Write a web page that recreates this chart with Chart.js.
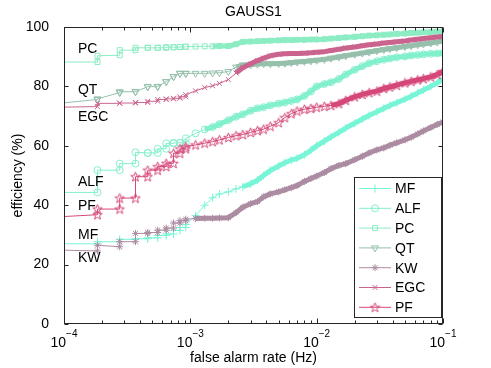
<!DOCTYPE html>
<html>
<head>
<meta charset="UTF-8">
<title>GAUSS1</title>
<style>
  body { margin: 0; background: #fff; }
</style>
<script src="https://cdn.jsdelivr.net/npm/chart.js@4.4.0/dist/chart.umd.min.js"></script>
</head>
<body>
<div style="width:491px;height:368px;"><canvas id="canvas" width="491" height="368"></canvas></div>
<script>
// false alarm rate (Hz), shared by all curves; repeated values are the vertical steps
var rate = [9.2e-5, 1.84e-4, 1.84e-4, 2.76e-4, 2.76e-4, 3.68e-4, 3.68e-4, 4.6e-4, 4.6e-4, 5.52e-4, 5.52e-4,
  6.44e-4, 6.44e-4, 7.36e-4, 7.36e-4, 8.28e-4, 8.28e-4, 9.2e-4, 9.2e-4,
  1.1e-3, 1.3e-3, 1.5e-3, 1.7e-3, 2e-3, 2.3e-3, 2.6e-3, 3e-3, 3.4e-3, 3.8e-3, 4.3e-3, 5e-3, 5.6e-3, 6.3e-3, 7e-3, 8e-3, 9e-3,
  1e-2, 1.15e-2, 1.3e-2, 1.5e-2, 1.7e-2, 2e-2, 2.3e-2, 2.6e-2, 3e-2, 3.4e-2, 3.8e-2, 4.3e-2, 5e-2, 5.6e-2, 6.3e-2, 7e-2, 8e-2, 9e-2, 1e-1];

// efficiency (%)
var MF = [27, 27, 27.7, 27.7, 28.5, 28.5, 28.7, 28.7, 29, 29, 29.8, 29.8, 30.3, 30.3, 31.5, 31.5, 32.5, 32.5, 33.5,
  36.5, 40, 42.5, 43.8, 44.5, 45.5, 46.2, 47.2, 48.4, 50, 51.7, 53.2, 54.3, 55.2, 55.8, 57, 58.5,
  60, 61.6, 63, 64.5, 66, 67.6, 69, 70.2, 71.5, 72.6, 73.6, 74.5, 75.7, 76.7, 77.8, 78.8, 80, 81.2, 82.5];
var ALF = [44.3, 44.3, 51.8, 51.8, 54, 54, 57.8, 57.6, 57.6, 57.6, 59, 59, 60.8, 60.8, 61, 61, 61, 61, 62.5,
  64.2, 65.5, 66.3, 67.3, 68.6, 69.8, 70.6, 71.8, 72.6, 73, 73.6, 74.2, 74.6, 75.1, 75.6, 76.8, 78.3,
  80, 80.8, 81.4, 82.5, 84, 85.6, 86.8, 87.8, 88.5, 89, 89.4, 89.8, 90.1, 90.4, 90.6, 90.8, 91, 91.1, 91.2];
var PC = [88.2, 88.2, 90.3, 90.5, 92.2, 92.2, 93, 93, 93, 93, 93, 93, 93.2, 93.2, 93.2, 93.2, 93.3, 93.3, 93.4,
  93.4, 93.5, 93.5, 93.6, 93.6, 94.2, 95, 95.1, 95.2, 95.3, 95.4, 95.5, 95.6, 95.6, 95.7, 95.7, 95.8,
  95.8, 95.9, 96.1, 96.3, 96.5, 96.7, 96.9, 97.1, 97.2, 97.4, 97.5, 97.7, 97.8, 98, 98.1, 98.2, 98.3, 98.4, 98.5];
var QT = [74.3, 75.6, 75.8, 77.9, 78.2, 78.2, 78.2, 79.9, 79.9, 79.9, 80, 81.6, 81.6, 83.3, 83.3, 84.4, 84.4, 84.4, 84.4,
  84.4, 84.4, 84.5, 84.6, 85, 86.5, 87.2, 87.3, 87.5, 87.6, 87.6, 87.7, 87.8, 88, 88.2, 88.4, 88.6,
  88.8, 89.1, 89.5, 89.9, 90.3, 90.8, 91.2, 91.6, 92, 92.4, 92.7, 93, 93.4, 93.7, 94, 94.3, 94.6, 94.9, 95.2];
var KW = [24.9, 24.6, 26.5, 26, 27.7, 27.7, 30.5, 30.5, 30.8, 30.8, 31.6, 31.6, 32.3, 32.3, 34, 34, 34.8, 34.8, 35.3,
  35.5, 35.6, 35.6, 35.7, 35.8, 37.5, 39.3, 40.5, 41.2, 42.8, 43.8, 44.5, 45.2, 45.9, 46.6, 48, 49,
  49.8, 51, 52.3, 53.4, 54, 55.3, 56.5, 57.6, 58.6, 59.3, 60.2, 61, 62, 62.9, 64, 65, 66.2, 67.2, 68];
var EGC = [73, 73.2, 74.3, 74.3, 74.4, 74.4, 74.6, 74.6, 75, 75, 75.6, 75.6, 75.8, 75.8, 76, 76, 76.5, 76.5, 77.2,
  78.5, 79.6, 80.2, 81, 82.3, 84.5, 86.3, 87.6, 88.7, 89.5, 90.3, 90.8, 91, 91.1, 91.1, 91.2, 91.3,
  91.5, 91.7, 92.1, 92.5, 92.9, 93.3, 93.7, 94, 94.3, 94.6, 94.8, 95, 95.3, 95.6, 95.9, 96.1, 96.4, 96.6, 96.8];
var PF = [36.1, 36.8, 38.7, 38.7, 42.4, 42.4, 49.6, 49.6, 51.8, 51.8, 53, 53, 54.1, 54.1, 57.5, 57.5, 59, 59, 59.7,
  60.3, 60.9, 61.4, 62, 62.8, 63.4, 63.8, 64.5, 65.1, 65.6, 66.6, 67.8, 69.5, 70.8, 71.7, 72.3, 72.6,
  73, 73.3, 73.6, 74.2, 75.3, 76.5, 77.3, 77.9, 78.4, 79.3, 79.8, 80.4, 81.2, 81.7, 82.2, 82.6, 83.2, 84, 85];

var seriesNames = ['MF', 'ALF', 'PC', 'QT', 'KW', 'EGC', 'PF'];
var seriesValues = [MF, ALF, PC, QT, KW, EGC, PF];

// text written next to the curves on the left, in data coordinates
var curveLabels = [
  { text: 'PC', f: 1.29e-4, v: 92.5 },
  { text: 'QT', f: 1.29e-4, v: 78.8 },
  { text: 'EGC', f: 1.29e-4, v: 69.7 },
  { text: 'ALF', f: 1.29e-4, v: 47.9 },
  { text: 'PF', f: 1.29e-4, v: 39.7 },
  { text: 'MF', f: 1.29e-4, v: 29.9 },
  { text: 'KW', f: 1.29e-4, v: 22.3 }
];

var FONT = "'Liberation Sans', Arial, Helvetica, sans-serif";
var AXIS = '#262626';

function pentagram(color) {
  var c = document.createElement('canvas');
  c.width = 11; c.height = 11;
  var g = c.getContext('2d');
  g.strokeStyle = color; g.lineWidth = 1;
  g.beginPath();
  for (var k = 0; k < 10; k++) {
    var r = k % 2 ? 2.1 : 5;
    var a = -Math.PI / 2 + k * Math.PI / 5;
    var px = 5.5 + r * Math.cos(a), py = 5.9 + r * Math.sin(a);
    if (k) g.lineTo(px, py); else g.moveTo(px, py);
  }
  g.closePath(); g.stroke();
  return c;
}

// where markers pile up into a solid ribbon, the line is drawn wide
var styles = {
  MF:  { color: 'rgb(120,245,215)', point: 'cross', radius: 4, band: 2.4e-3 },
  ALF: { color: 'rgb(130,240,205)', point: 'circle', radius: 3.5, band: 1.2e-3 },
  PC:  { color: 'rgb(140,236,195)', point: 'rect', radius: 3.5, band: 1.4e-3 },
  QT:  { color: 'rgb(150,192,172)', point: 'triangle', radius: 4, rotation: 180, band: 2.2e-3 },
  KW:  { color: 'rgb(172,140,162)', point: 'star', radius: 3.5, band: 1e-3 },
  EGC: { color: 'rgb(202,100,142)', point: 'crossRot', radius: 3.5, band: 2.2e-3 },
  PF:  { color: 'rgb(214,72,122)', point: null, radius: 5, band: 1.3e-2 }
};
styles.PF.point = pentagram(styles.PF.color);

var datasets = seriesNames.map(function(name, i) {
  var s = styles[name];
  return {
    label: name,
    data: rate.map(function(f, j) { return { x: f, y: seriesValues[i][j] }; }),
    borderColor: s.color,
    borderWidth: 1,
    borderJoinStyle: 'round',
    segment: {
      borderWidth: function(c) { return c.p0.parsed.x >= s.band ? 5 : 1; }
    },
    pointStyle: s.point,
    pointRadius: s.radius,
    pointRotation: s.rotation || 0,
    pointBorderColor: s.color,
    pointBackgroundColor: 'rgba(0,0,0,0)',
    pointBorderWidth: 1,
    tension: 0,
    order: seriesNames.length - i
  };
});

var decorations = {
  id: 'decorations',
  afterDraw: function(chart) {
    var ctx = chart.ctx, a = chart.chartArea, xs = chart.scales.x, ys = chart.scales.y;
    var L = Math.round(a.left) + 0.5, R = Math.round(a.right) - 0.5, T = Math.round(a.top) + 0.5, B = Math.round(a.bottom) - 0.5;
    ctx.save();
    ctx.strokeStyle = AXIS; ctx.lineWidth = 1;
    ctx.strokeRect(L, T, R - L, B - T);

    // inward ticks, both sides
    ctx.beginPath();
    for (var v = 0; v <= 100; v += 20) {
      var py = Math.round(ys.getPixelForValue(v)) + 0.5;
      ctx.moveTo(L, py); ctx.lineTo(L + 4, py);
      ctx.moveTo(R, py); ctx.lineTo(R - 4, py);
    }
    for (var d = -4; d <= -1; d++) {
      for (var k = 1; k <= 9; k++) {
        if (d === -1 && k > 1) break;
        var px = Math.round(xs.getPixelForValue(k * Math.pow(10, d))) + 0.5;
        var len = k === 1 ? 5 : 3;
        ctx.moveTo(px, B); ctx.lineTo(px, B - len);
        ctx.moveTo(px, T); ctx.lineTo(px, T + len);
      }
    }
    ctx.stroke();

    // x tick labels 10^n
    ctx.fillStyle = '#000';
    ctx.textBaseline = 'alphabetic';
    for (var e = -4; e <= -1; e++) {
      var cx = xs.getPixelForValue(Math.pow(10, e));
      ctx.font = '14px ' + FONT;
      var wb = ctx.measureText('10').width;
      ctx.font = '10px ' + FONT;
      var sup = '\u2212' + (-e);
      var we = ctx.measureText(sup).width;
      var x0 = cx - (wb + we) / 2;
      ctx.font = '14px ' + FONT;
      ctx.textAlign = 'left';
      ctx.fillText('10', x0, B + 23);
      ctx.font = '10px ' + FONT;
      ctx.fillText(sup, x0 + wb, B + 13);
    }

    // axis titles and title
    ctx.font = '14px ' + FONT;
    ctx.textAlign = 'center';
    ctx.fillText('false alarm rate (Hz)', (a.left + a.right) / 2, 362);
    ctx.textBaseline = 'middle';
    ctx.fillText('GAUSS1', (a.left + a.right) / 2, 12);
    ctx.save();
    ctx.translate(18, (a.top + a.bottom) / 2);
    ctx.rotate(-Math.PI / 2);
    ctx.fillText('efficiency (%)', 0, 0);
    ctx.restore();

    // curve names on the left
    ctx.textAlign = 'left';
    curveLabels.forEach(function(l) {
      ctx.fillText(l.text, xs.getPixelForValue(l.f), ys.getPixelForValue(l.v));
    });

    // legend box inside the axes, lower right
    var bw = 87, bh = 140;
    var bx = Math.round(a.right) - 2 - bw, by = Math.round(a.bottom) - 7 - bh;
    ctx.fillStyle = '#fff';
    ctx.fillRect(bx, by, bw, bh);
    ctx.strokeStyle = AXIS;
    ctx.strokeRect(bx + 0.5, by + 0.5, bw, bh);
    chart.data.datasets.forEach(function(ds, i) {
      var ly = by + 11.5 + i * 19.8;
      ctx.strokeStyle = ds.borderColor;
      ctx.lineWidth = 1;
      ctx.beginPath();
      ctx.moveTo(bx + 5, ly); ctx.lineTo(bx + 37, ly);
      ctx.stroke();
      ctx.fillStyle = 'rgba(0,0,0,0)';
      Chart.helpers.drawPoint(ctx, {
        pointStyle: ds.pointStyle, radius: ds.pointRadius, rotation: ds.pointRotation, borderWidth: 1
      }, bx + 21, ly);
      ctx.fillStyle = '#000';
      ctx.font = '14px ' + FONT;
      ctx.textBaseline = 'middle';
      ctx.fillText(ds.label, bx + 41, ly + 1);
    });
    ctx.restore();
  }
};

new Chart(document.getElementById('canvas').getContext('2d'), {
  type: 'line',
  data: { datasets: datasets },
  options: {
    responsive: false,
    animation: false,
    devicePixelRatio: 1,
    layout: { padding: { top: 27, right: 48, left: 0, bottom: 0 } },
    plugins: { legend: { display: false }, title: { display: false }, tooltip: { enabled: false } },
    scales: {
      x: {
        type: 'logarithmic', min: 1e-4, max: 1e-1,
        grid: { display: false }, border: { display: false },
        ticks: { display: false },
        afterFit: function(s) { s.height = 44; }
      },
      y: {
        type: 'linear', min: 0, max: 100,
        grid: { display: false }, border: { display: false },
        ticks: { stepSize: 20, padding: 7, color: '#000', font: { family: FONT, size: 14 } },
        afterFit: function(s) { s.width = 64; }
      }
    }
  },
  plugins: [decorations]
});
</script>
</body>
</html>
